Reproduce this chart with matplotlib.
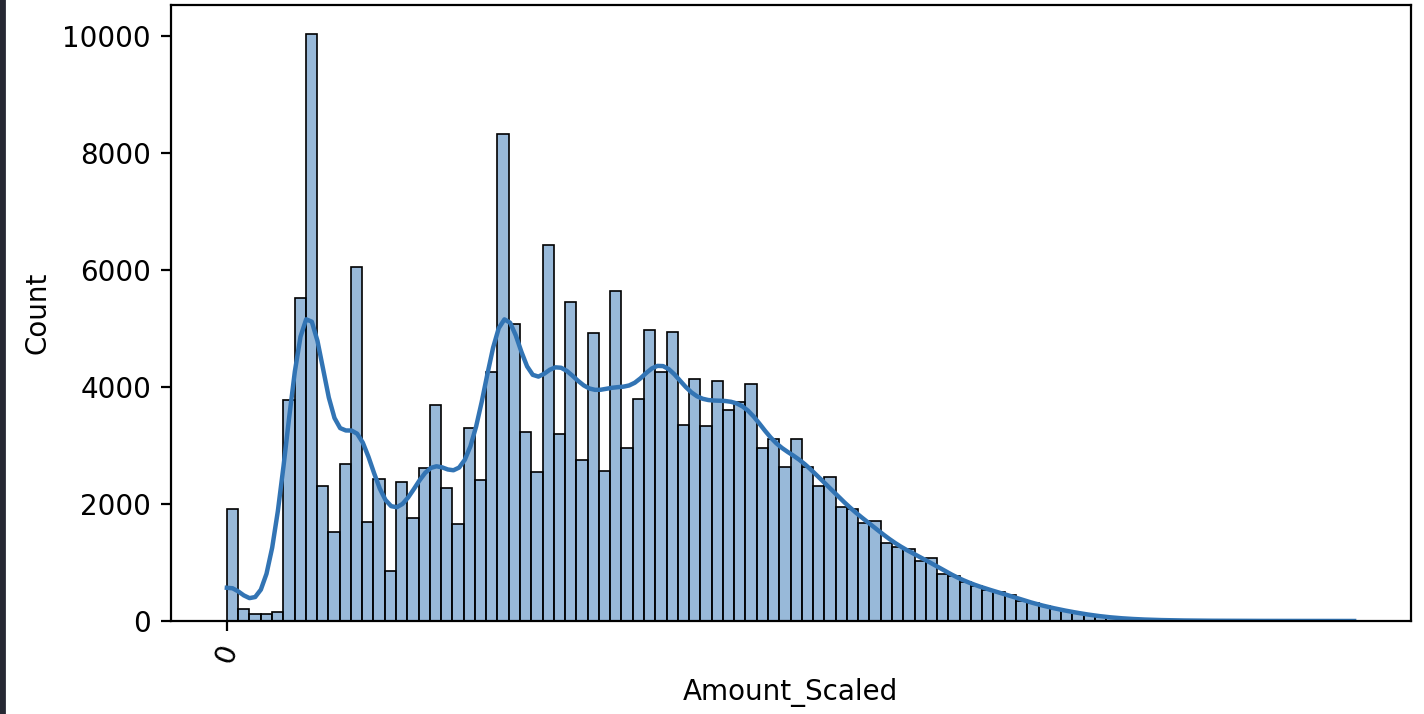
import numpy as np
import pandas as pd
import matplotlib
matplotlib.use("Agg")
import matplotlib.pyplot as plt
import seaborn as sns
from matplotlib.patches import Rectangle

# histogram of Amount_Scaled: 100 equal bins, counts
bin_width = 0.1
n_bins = 100
bin_edges = np.arange(n_bins + 1) * bin_width

counts = [
    1920, 210, 115, 115, 150, 3780, 5520, 10040, 2300, 1520,
    2690, 6060, 1690, 2430, 860, 2370, 1760, 2610, 3700, 2270,
    1655, 3300, 2410, 4250, 8320, 5080, 3230, 2550, 6430, 3200,
    5450, 2750, 4920, 2570, 5650, 2960, 3800, 4970, 4250, 4940,
    3360, 4140, 3330, 4110, 3610, 3745, 4050, 2960, 3120, 2640,
    3120, 2640, 2300, 2470, 1950, 1910, 1680, 1710, 1340, 1270,
    1230, 1030, 1085, 810, 775, 660, 600, 530, 490, 450,
    350, 300, 250, 210, 165, 140, 100, 75, 55, 42,
    30, 22, 16, 12, 9, 7, 5, 4, 3, 3,
    2, 2, 1, 1, 1, 1, 0, 1, 0, 1,
]

# one weighted point per bin; zeros sit at 0 and the max sits on the last edge
amount = bin_edges[:-1] + bin_width / 2
amount[0] = bin_edges[0]
amount[-1] = bin_edges[-1]
df = pd.DataFrame({"Amount_Scaled": amount, "n": counts})

# match Scott's bandwidth of the full sample rather than of 100 weighted points
w = np.array(counts, dtype=float)
n_total = w.sum()
n_eff = 1.0 / np.sum((w / n_total) ** 2)
bw_adjust = (n_total / n_eff) ** (-0.2)

fig = plt.figure(figsize=(7.12, 3.57), dpi=200)
ax = fig.add_axes([170.5 / 1424, 1 - 621 / 714, 1240 / 1424, 616.5 / 714])

sns.histplot(data=df, x="Amount_Scaled", weights="n", bins=n_bins,
             binrange=(bin_edges[0], bin_edges[-1]), color="#3274b4",
             linewidth=0.6, kde=True, kde_kws={"bw_adjust": bw_adjust},
             line_kws={"linewidth": 1.6}, ax=ax)

ax.set_xticks([0])
ax.tick_params(axis="x", labelrotation=70)

# dark edge of the screenshot on the left
fig.add_artist(Rectangle((0, 0), 4 / 1424, 1, transform=fig.transFigure,
                         color="#262833", zorder=10))

plt.savefig("out.png", dpi=200)
